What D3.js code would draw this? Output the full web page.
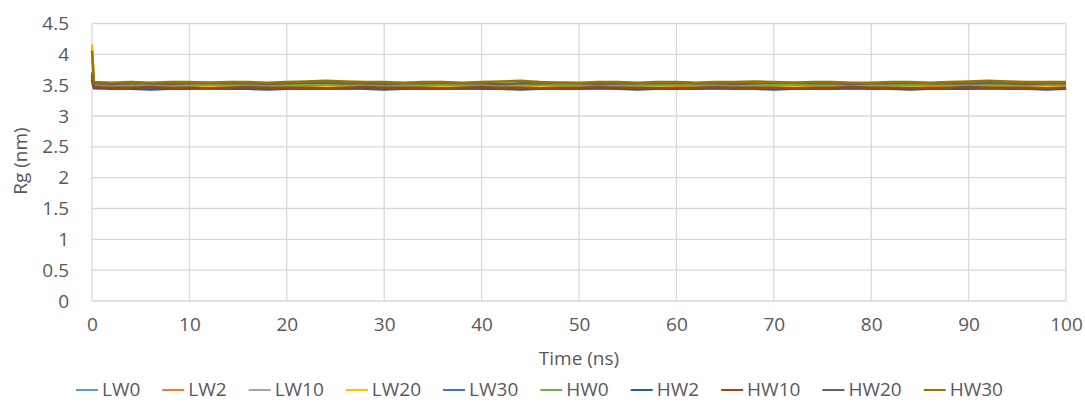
<!DOCTYPE html>
<html>
<head>
<meta charset="utf-8">
<script src="https://cdn.jsdelivr.net/npm/d3@7"></script>
<style>
  html, body { margin: 0; padding: 0; background: #ffffff; }
  svg { display: block; }
  text { font-family: "Open Sans", "Liberation Sans", sans-serif; fill: #595959; }
</style>
</head>
<body>
<svg id="chart" width="1085" height="403"></svg>
<script>
// ---- data ----
const times = [0,0.2,2,4,6,8,10,12,14,16,18,20,22,24,26,28,30,32,34,36,38,40,42,44,46,48,50,52,54,56,58,60,62,64,66,68,70,72,74,76,78,80,82,84,86,88,90,92,94,96,98,100];

const seriesNames = ["LW0","LW2","LW10","LW20","LW30","HW0","HW2","HW10","HW20","HW30"];
const seriesColors = ["#5B9BD5","#ED7D31","#A5A5A5","#FFC000","#4472C4","#70AD47","#255E91","#9E480E","#636363","#997300"];

const LW0 = [3.60,3.47,3.46,3.45,3.45,3.46,3.45,3.45,3.44,3.45, 3.45,3.46,3.45,3.45,3.44,3.45,3.45,3.46,3.45,3.45, 3.44,3.45,3.45,3.46,3.45,3.45,3.44,3.45,3.45,3.45, 3.46,3.45,3.44,3.45,3.45,3.45,3.46,3.45,3.45,3.44, 3.45,3.45,3.46,3.45,3.45,3.44,3.45,3.45,3.45,3.46, 3.45,3.45];
const LW2 = [3.72,3.49,3.48,3.48,3.49,3.48,3.47,3.48,3.48,3.49, 3.48,3.48,3.47,3.48,3.49,3.48,3.48,3.48,3.47,3.48, 3.49,3.48,3.48,3.47,3.48,3.48,3.49,3.48,3.48,3.47, 3.48,3.48,3.49,3.48,3.47,3.48,3.48,3.48,3.49,3.48, 3.48,3.47,3.48,3.48,3.48,3.49,3.48,3.48,3.47,3.48, 3.48,3.48];
const LW10 = [3.66,3.52,3.51,3.51,3.52,3.51,3.51,3.50,3.51,3.52, 3.51,3.51,3.52,3.51,3.50,3.51,3.51,3.52,3.51,3.51, 3.50,3.51,3.52,3.51,3.51,3.50,3.51,3.51,3.52,3.51, 3.51,3.50,3.51,3.51,3.52,3.51,3.51,3.51,3.50,3.51, 3.51,3.52,3.51,3.51,3.50,3.51,3.51,3.52,3.51,3.51, 3.50,3.51];
const LW20 = [4.16,3.50,3.49,3.50,3.49,3.49,3.48,3.49,3.50,3.49, 3.49,3.49,3.50,3.49,3.48,3.49,3.49,3.50,3.49,3.49, 3.48,3.49,3.49,3.50,3.49,3.49,3.48,3.49,3.50,3.49, 3.49,3.49,3.48,3.49,3.50,3.49,3.49,3.49,3.48,3.49, 3.49,3.50,3.49,3.49,3.48,3.49,3.49,3.50,3.49,3.49, 3.48,3.49];
const LW30 = [3.61,3.51,3.50,3.50,3.51,3.51,3.50,3.51,3.52,3.51, 3.51,3.50,3.51,3.52,3.52,3.51,3.51,3.50,3.51,3.51, 3.52,3.51,3.50,3.51,3.51,3.51,3.52,3.51,3.50,3.51, 3.51,3.51,3.52,3.51,3.51,3.50,3.52,3.53,3.52,3.51, 3.51,3.50,3.51,3.51,3.52,3.51,3.51,3.52,3.51,3.51, 3.52,3.51];
const HW0 = [3.67,3.51,3.50,3.50,3.49,3.50,3.50,3.51,3.50,3.50, 3.49,3.50,3.50,3.51,3.50,3.50,3.49,3.50,3.50,3.51, 3.50,3.50,3.49,3.50,3.51,3.50,3.50,3.50,3.49,3.50, 3.50,3.51,3.50,3.50,3.49,3.50,3.50,3.51,3.50,3.50, 3.49,3.50,3.50,3.50,3.51,3.50,3.49,3.50,3.50,3.50, 3.51,3.50];
const HW2 = [3.58,3.45,3.44,3.44,3.43,3.44,3.44,3.45,3.44,3.44, 3.43,3.44,3.44,3.44,3.45,3.44,3.43,3.44,3.44,3.44, 3.45,3.44,3.44,3.43,3.44,3.44,3.44,3.45,3.44,3.43, 3.44,3.44,3.44,3.45,3.44,3.44,3.43,3.44,3.44,3.44, 3.45,3.44,3.44,3.43,3.44,3.44,3.44,3.45,3.44,3.44, 3.43,3.44];
const HW10 = [3.64,3.47,3.46,3.46,3.47,3.46,3.46,3.45,3.46,3.47, 3.46,3.46,3.46,3.45,3.46,3.47,3.46,3.46,3.46,3.45, 3.46,3.47,3.46,3.46,3.45,3.46,3.46,3.47,3.46,3.46, 3.45,3.46,3.46,3.47,3.46,3.46,3.46,3.45,3.46,3.46, 3.47,3.46,3.46,3.45,3.46,3.46,3.47,3.46,3.46,3.46, 3.45,3.46];
const HW20 = [3.69,3.53,3.52,3.53,3.53,3.52,3.53,3.54,3.53,3.53, 3.52,3.53,3.54,3.54,3.53,3.53,3.52,3.53,3.53,3.54, 3.53,3.53,3.52,3.53,3.53,3.54,3.53,3.52,3.53,3.53, 3.53,3.54,3.53,3.53,3.52,3.53,3.54,3.54,3.53,3.53, 3.52,3.53,3.53,3.54,3.53,3.53,3.53,3.54,3.53,3.52, 3.53,3.53];
const HW30 = [4.06,3.55,3.54,3.55,3.54,3.55,3.55,3.54,3.55,3.55, 3.54,3.55,3.56,3.57,3.56,3.55,3.55,3.54,3.55,3.55, 3.54,3.55,3.56,3.57,3.55,3.54,3.54,3.55,3.55,3.54, 3.55,3.55,3.54,3.55,3.55,3.56,3.55,3.54,3.55,3.55, 3.54,3.54,3.55,3.55,3.54,3.55,3.56,3.57,3.56,3.55, 3.55,3.55];

const seriesValues = [LW0, LW2, LW10, LW20, LW30, HW0, HW2, HW10, HW20, HW30];

const xTicks = [0,10,20,30,40,50,60,70,80,90,100];
const yTicks = [0,0.5,1,1.5,2,2.5,3,3.5,4,4.5];
const xTitle = "Time (ns)";
const yTitle = "Rg (nm)";

// ---- chart ----
(function () {
const svg = d3.select("#chart");
const pLeft = 92, pRight = 1066, pTop = 23.5, pBottom = 301;

const x = d3.scaleLinear().domain([0, 100]).range([pLeft, pRight]);
const y = d3.scaleLinear().domain([0, 4.5]).range([pBottom, pTop]);

const grid = svg.append("g");
grid.selectAll("line.h").data(yTicks).join("line")
  .attr("x1", pLeft).attr("x2", pRight)
  .attr("y1", d => y(d)).attr("y2", d => y(d))
  .attr("stroke", "#d9d9d9").attr("stroke-width", 1.3);
grid.selectAll("line.v").data(xTicks).join("line")
  .attr("y1", pTop).attr("y2", pBottom)
  .attr("x1", d => x(d)).attr("x2", d => x(d))
  .attr("stroke", "#d9d9d9").attr("stroke-width", 1.3);

const yAxis = d3.axisLeft(y).tickValues(yTicks).tickSize(0).tickPadding(23)
  .tickFormat(d => String(d));
const gy = svg.append("g").attr("transform", `translate(${pLeft},0)`).call(yAxis);
gy.select(".domain").remove();
gy.selectAll("text").style("font-family", '"Open Sans", sans-serif').style("font-size", "19px").attr("fill", "#595959");

const xAxis = d3.axisBottom(x).tickValues(xTicks).tickSize(0).tickPadding(17)
  .tickFormat(d => String(d));
const gx = svg.append("g").attr("transform", `translate(0,${pBottom})`).call(xAxis);
gx.select(".domain").remove();
gx.selectAll("text").style("font-family", '"Open Sans", sans-serif').style("font-size", "19px").attr("fill", "#595959");

const line = d3.line().x((d, i) => x(times[i])).y(d => y(d));
svg.append("g").selectAll("path").data(seriesValues).join("path")
  .attr("d", d => line(d))
  .attr("fill", "none")
  .attr("stroke", (d, i) => seriesColors[i])
  .attr("stroke-width", 2.5)
  .attr("stroke-linejoin", "round");

svg.append("text").attr("x", (pLeft + pRight) / 2).attr("y", 365)
  .attr("text-anchor", "middle").style("font-size", "19px").text(xTitle);
svg.append("text").attr("transform", "translate(27,161) rotate(-90)")
  .attr("text-anchor", "middle").style("font-size", "19px").text(yTitle);

const lg = svg.append("g");
let lx = 76;
const gap = 22;
seriesNames.forEach((name, i) => {
  lg.append("line").attr("x1", lx).attr("x2", lx + 22).attr("y1", 390).attr("y2", 390)
    .attr("stroke", seriesColors[i]).attr("stroke-width", 2);
  const t = lg.append("text").attr("x", lx + 26).attr("y", 396)
    .style("font-size", "19px").text(name);
  lx += 26 + t.node().getComputedTextLength() + gap;
});
})();
</script>
</body>
</html>
